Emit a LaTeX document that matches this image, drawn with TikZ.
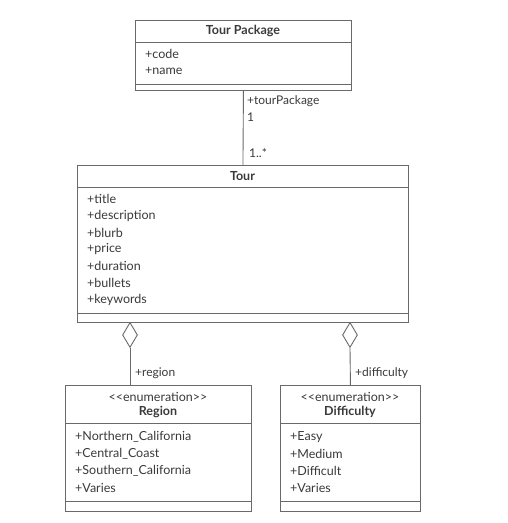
\documentclass[tikz,border=0pt]{standalone}
\usepackage{fontspec}
\setmainfont{Lato}
\usetikzlibrary{shapes.geometric}
\definecolor{linegray}{HTML}{6A6A6A}
\definecolor{txt}{HTML}{3A3A3A}
\begin{document}
\begin{tikzpicture}[x=1pt,y=-1pt,
  font=\fontsize{12.5}{14}\selectfont,
  box/.style={draw=linegray, line width=0.9pt, inner sep=0pt, anchor=north west, fill=white},
  sep/.style={draw=linegray, line width=0.8pt},
  conn/.style={draw=linegray, line width=0.9pt},
  ttl/.style={text=txt, font=\fontsize{12.5}{14}\selectfont\bfseries, inner sep=0pt},
  attr/.style={text=txt, anchor=west, inner sep=0pt},
  lbl/.style={text=txt, anchor=west, inner sep=0pt, font=\fontsize{12}{14}\selectfont},
  agg/.style={diamond, draw=linegray, line width=0.9pt, fill=white, minimum width=15pt, minimum height=25pt, inner sep=0pt, anchor=north}
]
\fill[white] (0,0) rectangle (508,523);
\useasboundingbox (0,0) rectangle (508,523);

% Tour Package
\node[box, minimum width=216pt, minimum height=70pt] (tp) at (135,20) {};
\draw[sep] (135,42) -- (351,42);
\draw[sep] (135,84) -- (351,84);
\node[ttl] (tpt) at (243,31) {Tour Package};
\node[attr] (tpa1) at (145,54) {+code};
\node[attr] (tpa2) at (145,71) {+name};

% Tour
\node[box, minimum width=331pt, minimum height=157pt] (tour) at (77,165) {};
\draw[sep] (77,187) -- (408,187);
\draw[sep] (77,313) -- (408,313);
\node[ttl] (tourt) at (242.5,176) {Tour};
\node[attr] (ta1) at (87,199) {+title};
\node[attr] (ta2) at (87,216) {+description};
\node[attr] (ta3) at (87,232.5) {+blurb};
\node[attr] (ta4) at (87,249.5) {+price};
\node[attr] (ta5) at (87,266) {+duration};
\node[attr] (ta6) at (87,283) {+bullets};
\node[attr] (ta7) at (87,300) {+keywords};

% association
\draw[conn] (tp.south) -- (tour.north);
\node[lbl] (l1) at (247,101) {+tourPackage};
\node[lbl] (l2) at (247,117) {1};
\node[lbl] (l3) at (249,153) {1..*};

% Region
\node[box, minimum width=186pt, minimum height=126pt] (reg) at (65,385) {};
\draw[sep] (65,423) -- (251,423);
\draw[sep] (65,501) -- (251,501);
\node[text=txt, inner sep=0pt] (rst) at (158,397) {{<}{<}enumeration{>}{>}};
\node[ttl] (rt) at (158,412) {Region};
\node[attr] (ra1) at (75,437) {+Northern\_California};
\node[attr] (ra2) at (75,454) {+Central\_Coast};
\node[attr] (ra3) at (75,471) {+Southern\_California};
\node[attr] (ra4) at (75,487.5) {+Varies};

% Difficulty
\node[box, minimum width=140pt, minimum height=126pt] (dif) at (280,385) {};
\draw[sep] (280,423) -- (420,423);
\draw[sep] (280,501) -- (420,501);
\node[text=txt, inner sep=0pt] (dst) at (350,397) {{<}{<}enumeration{>}{>}};
\node[ttl] (dt) at (350,412) {Difficulty};
\node[attr] (da1) at (290,437) {+Easy};
\node[attr] (da2) at (290,454) {+Medium};
\node[attr] (da3) at (290,471) {+Difficult};
\node[attr] (da4) at (290,487.5) {+Varies};

% aggregations
\node[agg] (d1) at (130,322) {};
\node[agg] (d2) at (350,322) {};
\draw[conn] (d1.south) -- (d1.south |- reg.north);
\draw[conn] (d2.south) -- (dif.north);
\node[lbl] (l4) at (135,373) {+region};
\node[lbl] (l5) at (355,373) {+difficulty};
\end{tikzpicture}
\end{document}
